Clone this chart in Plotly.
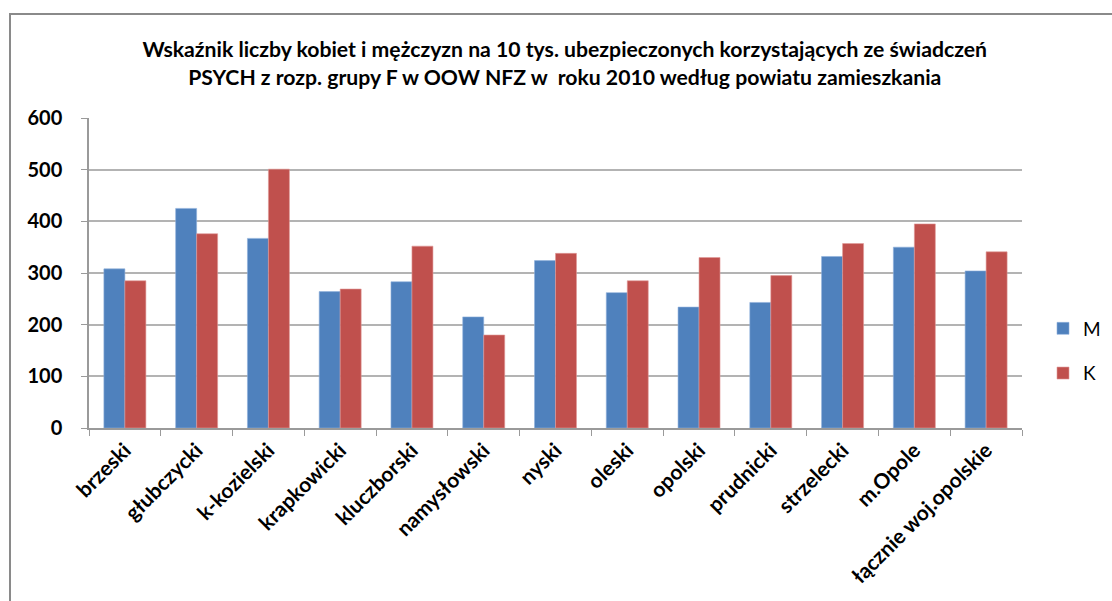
import plotly.graph_objects as go

categories = ["brzeski", "głubczycki", "k-kozielski", "krapkowicki", "kluczborski",
              "namysłowski", "nyski", "oleski", "opolski", "prudnicki", "strzelecki",
              "m.Opole", "łącznie woj.opolskie"]
values_M = [308, 425, 367, 264, 283, 215, 324, 262, 234, 243, 332, 350, 304]
values_K = [285, 376, 501, 269, 352, 180, 338, 285, 330, 295, 357, 395, 341]
y_ticks = [0, 100, 200, 300, 400, 500, 600]

title_text = ("Wskaźnik liczby kobiet i mężczyzn na 10 tys. ubezpieczonych korzystających ze świadczeń"
              "<br>PSYCH z rozp. grupy F w OOW NFZ w  roku 2010 według powiatu zamieszkania")

FONT = "Lato"
W, H = 1112, 601
PL, PR, PT, PB = 89, 1022, 118, 428   # plot area in pixels
PW, PH = PR - PL, PB - PT

fig = go.Figure()
fig.add_trace(go.Bar(name="M", x=categories, y=values_M, legendgroup="M",
                     marker=dict(color="#4F81BD", line=dict(color="#8fb0dc", width=0.6))))
fig.add_trace(go.Bar(name="K", x=categories, y=values_K, legendgroup="K",
                     marker=dict(color="#C0504D", line=dict(color="#e09a98", width=0.6))))

fig.update_layout(
    width=W, height=H,
    barmode="group", bargap=0.415, bargroupgap=0,
    paper_bgcolor="white", plot_bgcolor="white",
    margin=dict(l=PL, r=W - PR, t=PT, b=H - PB, autoexpand=False),
    font=dict(family=FONT, color="black"),
    title=dict(text=title_text, x=567 / W, xref="paper", xanchor="center",
               yref="container", y=1 - 57 / H, yanchor="middle",
               font=dict(family=FONT, size=21.2, weight="bold", color="black")),
    legend=dict(x=(1043 - PL) / PW, y=(PB - 351) / PH, xanchor="left", yanchor="middle",
                font=dict(family=FONT, size=19, color="black"),
                tracegroupgap=17, itemwidth=30, bgcolor="rgba(0,0,0,0)"),
    showlegend=True,
)
fig.update_yaxes(range=[0, 600], tickvals=y_ticks, showgrid=True, gridcolor="#b3b3b3", gridwidth=1.5,
                 showline=True, linecolor="#9a9a9a", linewidth=1.5, ticks="outside", ticklen=6,
                 tickcolor="#9a9a9a", tickfont=dict(family=FONT, size=20, weight="bold", color="black"),
                 ticklabelstandoff=15, zeroline=False)
fig.update_xaxes(showline=True, linecolor="#9a9a9a", linewidth=1.5, ticks="outside", ticklen=6,
                 tickcolor="#9a9a9a", tickson="boundaries", tickangle=-45,
                 tickfont=dict(family=FONT, size=21, weight="bold", color="black"))

# outer chart frame
fig.add_shape(type="rect", xref="paper", yref="paper",
              x0=(10 - PL) / PW, x1=1.2, y0=-0.7, y1=1 + (PT - 14) / PH,
              line=dict(color="#8a8a8a", width=2), fillcolor="rgba(0,0,0,0)", layer="below")

fig.write_html("out.html", config={"displayModeBar": False},
               post_script="document.body.style.margin='0';")
